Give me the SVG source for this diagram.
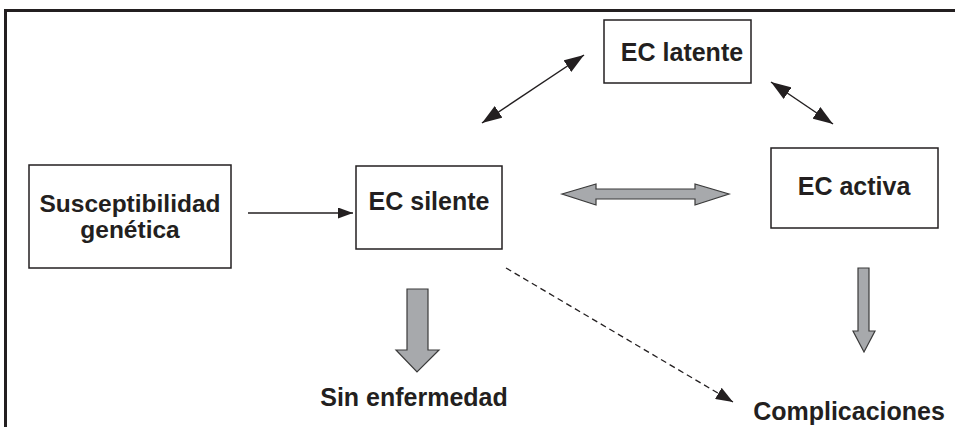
<svg xmlns="http://www.w3.org/2000/svg" width="955" height="427" viewBox="0 0 955 427">
<style>
.box{fill:#fff;stroke:#231f20;stroke-width:1.5}
.t{font-family:"Liberation Sans",Arial,sans-serif;font-weight:bold;font-size:25px;fill:#231f20;text-anchor:middle}
.ln{stroke:#231f20;stroke-width:1.5;fill:none}
.dash{stroke:#231f20;stroke-width:1.3;fill:none;stroke-dasharray:6 4}
.grey{fill:#a7a9ac;stroke:#3a3a3a;stroke-width:1.2;stroke-linejoin:miter}
</style>
<defs>
<marker id="ah" viewBox="0 0 20 14" refX="20" refY="7" markerWidth="20" markerHeight="14" markerUnits="userSpaceOnUse" orient="auto-start-reverse"><path d="M0,0 L20,7 L0,14 z" fill="#231f20"/></marker>
<marker id="ahs" viewBox="0 0 15 11" refX="15" refY="5.5" markerWidth="15" markerHeight="11" markerUnits="userSpaceOnUse" orient="auto"><path d="M0,0 L15,5.5 L0,11 z" fill="#231f20"/></marker>
<marker id="ahd" viewBox="0 0 17 13" refX="17" refY="6.5" markerWidth="17" markerHeight="13" markerUnits="userSpaceOnUse" orient="auto"><path d="M0,0 L17,6.5 L0,13 z" fill="#231f20"/></marker>
</defs>
<rect width="955" height="427" fill="#fff"/>
<g id="frame"><path d="M5.5,427 V10.5 H955" fill="none" stroke="#231f20" stroke-width="3"/></g>
<g id="connectors">
<line class="ln" x1="248" y1="213" x2="353" y2="213" marker-end="url(#ahs)"/>
<line class="ln" x1="482" y1="123" x2="584" y2="55" marker-start="url(#ah)" marker-end="url(#ah)"/>
<line class="ln" x1="771" y1="82" x2="833" y2="124" marker-start="url(#ah)" marker-end="url(#ah)"/>
<line class="dash" x1="506" y1="268" x2="733" y2="402" marker-end="url(#ahd)"/>
<polygon class="grey" points="562,194 596,184 596,189 695,189 695,184 729,194 695,205 695,199 596,199 596,205"/>
<polygon class="grey" points="407,289 428,289 428,350 439,350 417,372 396,350 407,350"/>
<polygon class="grey" points="858,268 869,268 869,331 875,331 864,352 853,331 858,331"/>
</g>
<g id="susceptibilidad">
<rect class="box" x="29" y="165" width="202" height="103"/>
<text class="t" x="130" y="212" style="font-size:24.5px">Susceptibilidad</text>
<text class="t" x="130" y="238" style="font-size:24.5px">genética</text>
</g>
<g id="ec-silente">
<rect class="box" x="356" y="166" width="146" height="83"/>
<text class="t" x="429" y="210">EC silente</text>
</g>
<g id="ec-latente">
<rect class="box" x="604" y="20" width="147" height="63"/>
<text class="t" x="682" y="61">EC latente</text>
</g>
<g id="ec-activa">
<rect class="box" x="771" y="148" width="167" height="80"/>
<text class="t" x="854" y="195">EC activa</text>
</g>
<g id="sin-enfermedad">
<text class="t" x="414" y="406">Sin enfermedad</text>
</g>
<g id="complicaciones">
<text class="t" x="849" y="420">Complicaciones</text>
</g>
</svg>
